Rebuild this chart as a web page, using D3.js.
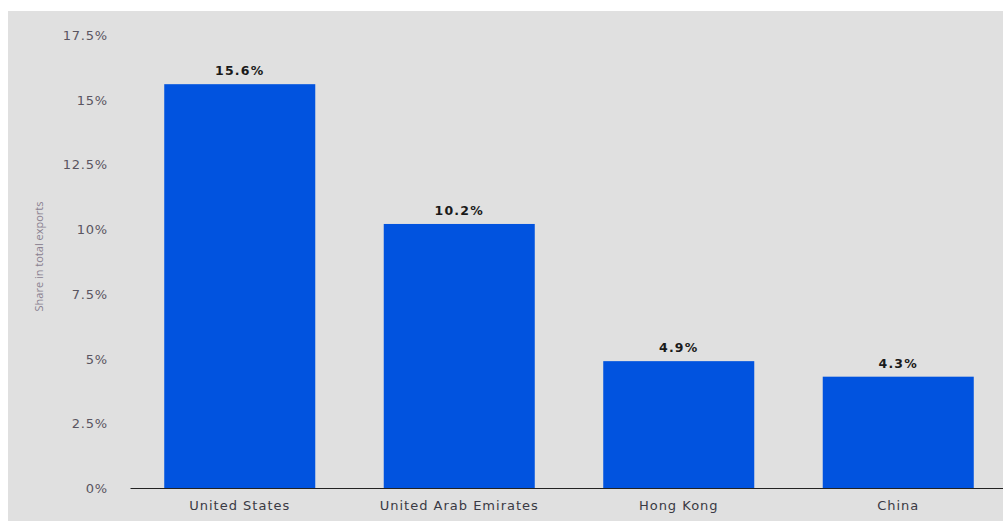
<!DOCTYPE html>
<html>
<head>
<meta charset="utf-8">
<script src="https://cdn.jsdelivr.net/npm/d3@7"></script>
<style>
  html, body { margin: 0; padding: 0; background: #fff; }
  #chart { width: 1003px; height: 521px; }
</style>
</head>
<body>
<div id="chart"></div>
<script>
const countries = ["United States", "United Arab Emirates", "Hong Kong", "China"];
const shares = [15.6, 10.2, 4.9, 4.3];
const yTicks = [0, 2.5, 5, 7.5, 10, 12.5, 15, 17.5];

function renderChart(containerSelector) {
    const container = d3.select(containerSelector);
    const width = 1003, height = 521;

    const data = countries.map((c, i) => ({ country: c, value: shares[i] }));

    const margin = { top: 35, right: -5, bottom: 33, left: 130 };

    const svg = container.append("svg")
        .attr("width", width)
        .attr("height", height);

    // gray panel
    svg.append("rect")
        .attr("x", 8).attr("y", 11)
        .attr("width", width - 8).attr("height", height - 11)
        .attr("fill", "#e0e0e0");

    const x = d3.scaleBand()
        .domain(countries)
        .range([margin.left, width - margin.right])
        .paddingInner(0.312)
        .paddingOuter(0.156);

    const y = d3.scaleLinear()
        .domain([0, 17.5])
        .range([height - margin.bottom, margin.top]);

    svg.selectAll("rect.bar")
        .data(data)
        .join("rect")
        .attr("class", "bar")
        .attr("x", d => x(d.country))
        .attr("y", d => y(d.value))
        .attr("width", x.bandwidth())
        .attr("height", d => y(0) - y(d.value))
        .attr("fill", "#0153df");

    // value labels
    svg.selectAll("text.val")
        .data(data)
        .join("text")
        .attr("class", "val")
        .attr("x", d => x(d.country) + x.bandwidth() / 2)
        .attr("y", d => y(d.value) - 9)
        .attr("text-anchor", "middle")
        .style("font-family", "DejaVu Sans, sans-serif")
        .style("font-weight", "bold")
        .style("font-size", "12.5px")
        .style("letter-spacing", "1.2px")
        .style("fill", "#1a1a1a")
        .text(d => d.value + "%");

    // y axis labels
    const yAxis = svg.append("g")
        .attr("transform", `translate(${margin.left - 22},0)`)
        .call(d3.axisLeft(y).tickValues(yTicks).tickSize(0).tickFormat(d => d + "%"));
    yAxis.select(".domain").remove();
    yAxis.selectAll("text")
        .attr("x", 0)
        .attr("dy", "0.35em")
        .style("font-family", "DejaVu Sans, sans-serif")
        .style("font-size", "13px")
        .style("letter-spacing", "0.8px")
        .style("fill", "#5a5560");

    // x axis
    const xAxis = svg.append("g")
        .attr("transform", `translate(0,${y(0)})`)
        .call(d3.axisBottom(x).tickSize(0).tickSizeOuter(0));
    xAxis.select(".domain")
        .attr("stroke", "#222")
        .attr("stroke-width", 1.2);
    xAxis.selectAll("text")
        .attr("dy", "0")
        .attr("y", 22)
        .style("font-family", "DejaVu Sans, sans-serif")
        .style("font-size", "13px")
        .style("letter-spacing", "1px")
        .style("fill", "#3a3a44");

    // y axis title
    svg.append("text")
        .attr("transform", `translate(43, ${(y(0) + y(17.5)) / 2 - 5}) rotate(-90)`)
        .attr("text-anchor", "middle")
        .style("font-family", "Open Sans, sans-serif")
        .style("font-size", "11px")
        .style("fill", "#8a8090")
        .text("Share in total exports");
}

renderChart("#chart");
</script>
</body>
</html>
